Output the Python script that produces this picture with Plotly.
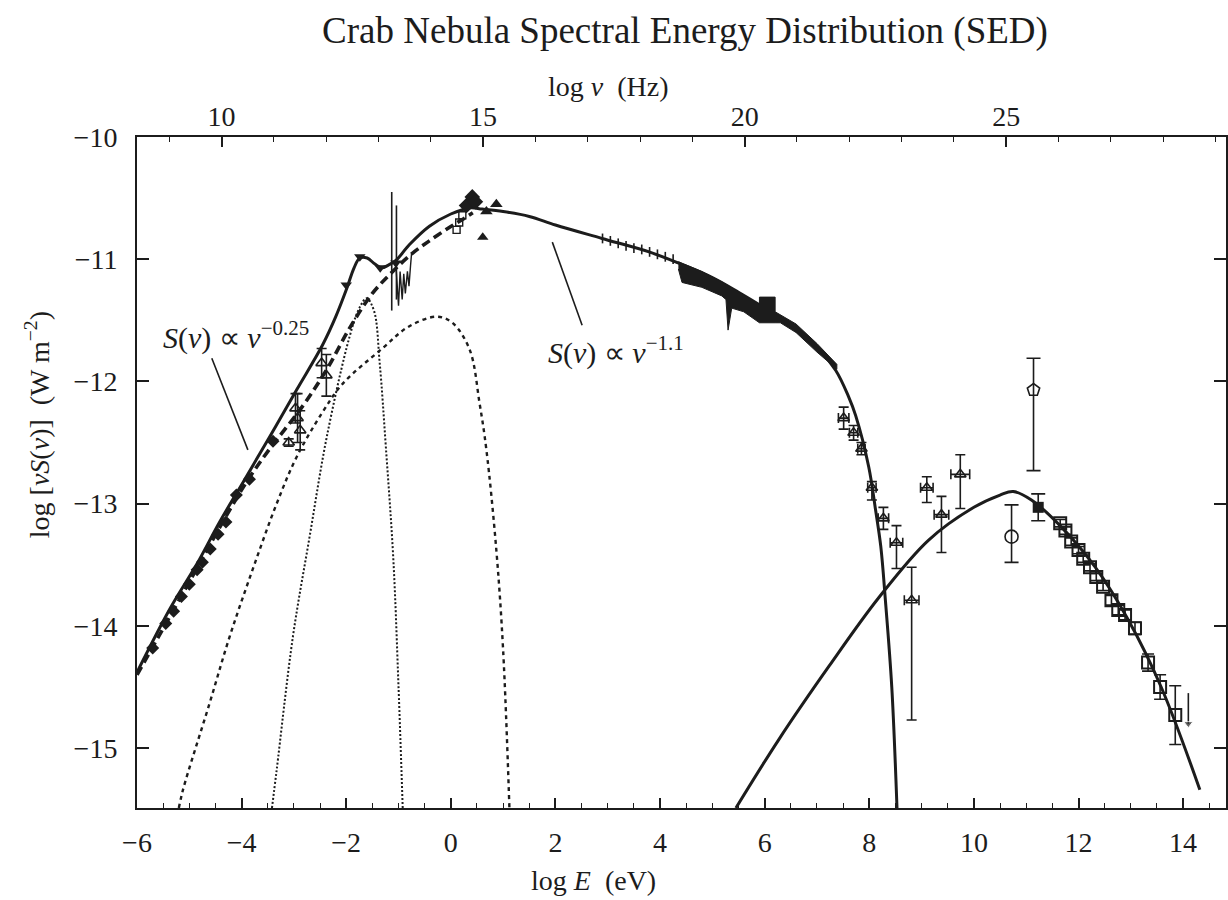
import plotly.graph_objects as go

# ---------------- data (log E [eV], log[nu S(nu)] [W m^-2]) ----------------
# synchrotron model (solid)
sync_x = [-6.0, -5.37, -4.85, -4.42, -3.98, -3.46, -2.95, -2.45, -2.2, -1.99, -1.85, -1.74, -1.6,
          -1.45, -1.32, -1.2, -1.05, -0.79, -0.41, 0.0, 0.36, 0.6, 1.0, 1.5, 2.0, 2.89, 3.79, 4.4,
          5.0, 5.5, 6.0, 6.5, 7.0, 7.36, 7.6, 7.74, 7.99, 8.12, 8.22, 8.31, 8.43, 8.53]
sync_y = [-14.38, -13.86, -13.49, -13.15, -12.83, -12.45, -12.07, -11.70, -11.47, -11.24, -11.07,
          -10.99, -10.99, -11.04, -11.07, -11.05, -11.01, -10.88, -10.73, -10.63, -10.58, -10.59,
          -10.61, -10.65, -10.72, -10.83, -10.94, -11.04, -11.15, -11.27, -11.40, -11.55, -11.72,
          -11.91, -12.12, -12.28, -12.70, -13.05, -13.35, -13.80, -14.50, -15.49]
# thick dashed model
dash_x = [-6.0, -5.0, -4.2, -3.84, -3.46, -2.83, -2.37, -1.93, -1.5, -1.11, -0.73, -0.41, -0.03, 0.2, 0.42]
dash_y = [-14.40, -13.64, -13.03, -12.78, -12.55, -12.20, -11.90, -11.56, -11.28, -11.10, -10.95,
          -10.85, -10.74, -10.68, -10.62]
# broad dashed component
broad_x = [-5.2, -5.12, -4.61, -4.23, -3.79, -3.33, -2.95, -2.45, -2.07, -1.31, -0.8, -0.27, 0.03,
           0.36, 0.55, 0.68, 0.87, 1.0, 1.12]
broad_y = [-15.49, -15.34, -14.63, -14.09, -13.54, -13.0, -12.62, -12.25, -12.02, -11.73, -11.55,
           -11.47, -11.52, -11.74, -12.18, -12.56, -13.38, -14.2, -15.49]
# narrow dotted component
narrow_x = [-3.42, -3.33, -3.02, -2.70, -2.37, -1.94, -1.75, -1.61, -1.47, -1.36, -1.24, -1.1,
            -1.0, -0.92]
narrow_y = [-15.49, -15.18, -14.09, -13.27, -12.45, -11.64, -11.40, -11.32, -11.42, -11.85,
            -12.55, -13.45, -14.5, -15.49]
# inverse-Compton model
ic_x = [5.45, 6.27, 7.23, 8.18, 9.13, 10.0, 10.5, 10.75, 11.1, 11.67, 12.32, 12.95, 13.58, 14.32]
ic_y = [-15.49, -14.93, -14.33, -13.77, -13.30, -13.03, -12.93, -12.90, -12.97, -13.19,
        -13.52, -13.95, -14.50, -15.34]

# radio / IR data (filled diamonds)
radio_x = [-5.7, -5.45, -5.3, -5.15, -5.0, -4.85, -4.75, -4.6, -4.45, -4.3, -4.1, -3.85, -3.4]
radio_y = [-14.18, -13.98, -13.88, -13.76, -13.66, -13.54, -13.48, -13.37, -13.25, -13.15, -12.93,
           -12.80, -12.49]
# IR triangles with error bars
irt_x = [-3.1, -2.97, -2.93, -2.88, -2.47, -2.38]
irt_y = [-12.50, -12.22, -12.30, -12.40, -11.85, -11.95]
irt_err = [0.03, 0.12, 0.20, 0.16, 0.12, 0.17]
# near-IR down triangles
nir_x = [-2.0, -1.74, -1.35, -1.05]
nir_y = [-11.21, -10.98, -11.07, -11.03]
# optical filled diamonds
opt_x = [0.30, 0.41, 0.47]
opt_y = [-10.56, -10.49, -10.53]
# optical open squares
opq_x = [0.11, 0.16, 0.22]
opq_y = [-10.76, -10.70, -10.64]
# UV triangles
uv_x = [0.68, 0.87]
uv_y = [-10.61, -10.55]
uvf_x = [0.61]
uvf_y = [-10.82]
# mid-IR spectra spikes
spike_x = [-1.13, -1.13, None, -1.04, -1.04]
spike_y = [-10.45, -11.42, None, -10.56, -11.33]
jag_x = [-1.05, -1.0, -0.97, -0.93, -0.9, -0.87, -0.83, -0.8, -0.77, -0.75]
jag_y = [-11.05, -11.38, -11.10, -11.33, -11.12, -11.28, -11.10, -11.22, -11.05, -10.95]
# X-ray points with small error bars
xr_x = [2.9, 3.05, 3.2, 3.35, 3.5, 3.65, 3.8, 3.95, 4.1, 4.25]
xr_y = [-10.83, -10.85, -10.87, -10.89, -10.91, -10.92, -10.94, -10.96, -10.98, -11.0]
# dense X-ray measurement band
band_x = [4.35, 4.8, 5.2, 5.6, 5.9, 5.9, 6.2, 6.2, 6.6, 7.0, 7.38, 7.38, 7.0, 6.6, 6.3, 6.2,
          5.9, 5.6, 5.37, 5.3, 5.26, 5.18, 4.8, 4.42, 4.35]
band_y = [-11.02, -11.10, -11.19, -11.29, -11.37, -11.31, -11.31, -11.43, -11.53, -11.69, -11.86,
          -11.90, -11.76, -11.60, -11.52, -11.52, -11.52, -11.43, -11.40, -11.58, -11.33, -11.30,
          -11.23, -11.19, -11.08]
# hard X-ray / soft gamma triangles
hx_x = [7.51, 7.70, 7.85, 8.05, 8.27, 8.52, 8.81, 9.10, 9.38, 9.74]
hx_y = [-12.30, -12.42, -12.55, -12.87, -13.12, -13.32, -13.79, -12.87, -13.09, -12.76]
hx_eplus = [0.09, 0.06, 0.05, 0.05, 0.09, 0.14, 0.27, 0.09, 0.15, 0.16]
hx_eminus = [0.09, 0.06, 0.05, 0.10, 0.09, 0.21, 0.98, 0.12, 0.31, 0.28]
hx_ex = [0.10, 0.08, 0.07, 0.08, 0.10, 0.12, 0.14, 0.12, 0.14, 0.18]
# gamma-ray circle / pentagon / filled square
circ_x = [10.72]
circ_y = [-13.27]
circ_ep = [0.26]
circ_em = [0.21]
pent_x = [11.14]
pent_y = [-12.07]
pent_ep = [0.26]
pent_em = [0.66]
fsq_x = [11.23]
fsq_y = [-13.03]
fsq_e = [0.11]
# TeV open squares
tev_x = [11.65, 11.75, 11.86, 12.0, 12.09, 12.22, 12.34, 12.47, 12.63, 12.76, 12.89, 13.08, 13.33,
         13.56, 13.85]
tev_y = [-13.16, -13.22, -13.31, -13.38, -13.45, -13.52, -13.60, -13.68, -13.79, -13.87, -13.91,
         -14.02, -14.30, -14.50, -14.73]
tev_e = [0.03, 0.03, 0.03, 0.03, 0.03, 0.03, 0.03, 0.03, 0.04, 0.04, 0.04, 0.05, 0.07, 0.10, 0.24]
# upper limit arrow
ul_x = [14.1, 14.1]
ul_y = [-14.55, -14.80]
# annotation leader lines
lead1_x = [-4.57, -3.88]
lead1_y = [-11.81, -12.56]
lead2_x = [1.94, 2.51]
lead2_y = [-10.86, -11.54]

top_ticks = [10, 15, 20, 25]
LOG_H = 14.383  # log nu = log E + 14.383

INK = "#1c1c1c"
FONT = "Liberation Serif"
X_RANGE = [-6.0, 14.82]
Y_RANGE = [-15.49, -10.0]

fig = go.Figure()


def add_line(x, y, width, dash="solid", shape="spline"):
    fig.add_trace(go.Scatter(x=x, y=y, mode="lines", line=dict(color=INK, width=width, dash=dash,
                                                                 shape=shape),
                             hoverinfo="skip", showlegend=False))


add_line(broad_x, broad_y, 2.4, "4px,4px")
add_line(narrow_x, narrow_y, 2.0, "2px,2px")
add_line(dash_x, dash_y, 3.6, "9px,5px")
add_line(sync_x, sync_y, 3.0)
add_line(ic_x, ic_y, 3.0)
add_line(spike_x, spike_y, 1.6, shape="linear")
add_line(jag_x, jag_y, 1.4, shape="linear")
add_line(lead1_x, lead1_y, 1.6, shape="linear")
add_line(lead2_x, lead2_y, 1.6, shape="linear")

fig.add_trace(go.Scatter(x=band_x, y=band_y, mode="lines", fill="toself", fillcolor=INK,
                         line=dict(color=INK, width=1), hoverinfo="skip", showlegend=False))

eb = dict(type="data", color=INK, thickness=1.6, width=5)

fig.add_trace(go.Scatter(x=radio_x, y=radio_y, mode="markers",
                         marker=dict(symbol="diamond", size=10, color=INK), showlegend=False))
fig.add_trace(go.Scatter(x=irt_x, y=irt_y, mode="markers",
                         marker=dict(symbol="triangle-up-open", size=10, color=INK, line=dict(width=1.6)),
                         error_y=dict(eb, array=irt_err), showlegend=False))
fig.add_trace(go.Scatter(x=nir_x, y=nir_y, mode="markers",
                         marker=dict(symbol="triangle-down", size=10, color=INK), showlegend=False))
fig.add_trace(go.Scatter(x=opt_x, y=opt_y, mode="markers",
                         marker=dict(symbol="diamond", size=12, color=INK), showlegend=False))
fig.add_trace(go.Scatter(x=opq_x, y=opq_y, mode="markers",
                         marker=dict(symbol="square-open", size=7, color=INK, line=dict(width=1.4)),
                         showlegend=False))
fig.add_trace(go.Scatter(x=uv_x, y=uv_y, mode="markers",
                         marker=dict(symbol="triangle-up", size=11, color=INK), showlegend=False))
fig.add_trace(go.Scatter(x=uvf_x, y=uvf_y, mode="markers",
                         marker=dict(symbol="triangle-up", size=10, color=INK), showlegend=False))
fig.add_trace(go.Scatter(x=xr_x, y=xr_y, mode="markers",
                         marker=dict(symbol="line-ns", size=7, color=INK, line=dict(width=1.6, color=INK)),
                         showlegend=False))
fig.add_trace(go.Scatter(x=hx_x, y=hx_y, mode="markers",
                         marker=dict(symbol="triangle-up-open", size=10, color=INK, line=dict(width=1.6)),
                         error_y=dict(eb, array=hx_eplus, arrayminus=hx_eminus),
                         error_x=dict(eb, array=hx_ex), showlegend=False))
fig.add_trace(go.Scatter(x=circ_x, y=circ_y, mode="markers",
                         marker=dict(symbol="circle-open", size=13, color=INK, line=dict(width=1.6)),
                         error_y=dict(eb, array=circ_ep, arrayminus=circ_em, width=7), showlegend=False))
fig.add_trace(go.Scatter(x=pent_x, y=pent_y, mode="markers",
                         marker=dict(symbol="pentagon-open", size=13, color=INK, line=dict(width=1.6)),
                         error_y=dict(eb, array=pent_ep, arrayminus=pent_em, width=7), showlegend=False))
fig.add_trace(go.Scatter(x=fsq_x, y=fsq_y, mode="markers",
                         marker=dict(symbol="square", size=11, color=INK),
                         error_y=dict(eb, array=fsq_e, width=7), showlegend=False))
fig.add_trace(go.Scatter(x=tev_x, y=tev_y, mode="markers",
                         marker=dict(symbol="square-open", size=12, color=INK, line=dict(width=2)),
                         error_y=dict(eb, array=tev_e, width=6), showlegend=False))
fig.add_trace(go.Scatter(x=ul_x, y=ul_y, mode="lines+markers",
                         line=dict(color=INK, width=1.6),
                         marker=dict(symbol="triangle-down", size=[0, 8], color=INK), showlegend=False))

# invisible trace to carry the top (log nu) axis
fig.add_trace(go.Scatter(x=top_ticks, y=[Y_RANGE[1]] * len(top_ticks), xaxis="x2", mode="markers",
                         marker=dict(opacity=0), hoverinfo="skip", showlegend=False))

tickfont = dict(family=FONT, size=28, color=INK)
fig.update_layout(
    width=1228, height=900, autosize=False,
    margin=dict(l=137, r=0, t=137, b=92),
    paper_bgcolor="white", plot_bgcolor="white",
    font=dict(family=FONT, color=INK),
    title=dict(text="Crab Nebula Spectral Energy Distribution (SED)", font=dict(family=FONT, size=37, color=INK),
               xref="container", yref="container", x=685 / 1228, xanchor="center",
               y=1 - 30 / 900, yanchor="middle"),
    xaxis=dict(range=X_RANGE, showgrid=False, zeroline=False, showline=True, linecolor=INK, linewidth=2,
               mirror=True, ticks="inside", ticklen=10, tickwidth=1.6, tickcolor=INK, dtick=2, tick0=0,
               minor=dict(dtick=0.5, tick0=0, ticks="inside", ticklen=5, tickwidth=1.4, tickcolor=INK),
               tickfont=tickfont, ticklabelstandoff=8),
    xaxis2=dict(range=[X_RANGE[0] + LOG_H, X_RANGE[1] + LOG_H], overlaying="x", side="top",
                showgrid=False, zeroline=False, showline=False, ticks="inside", ticklen=10, tickwidth=1.6,
                tickcolor=INK, tickvals=top_ticks,
                minor=dict(dtick=1, tick0=0, ticks="inside", ticklen=5, tickwidth=1.4, tickcolor=INK),
                tickfont=tickfont, ticklabelstandoff=4),
    yaxis=dict(range=Y_RANGE, showgrid=False, zeroline=False, showline=True, linecolor=INK, linewidth=2,
               mirror="ticks", ticks="inside", ticklen=12, tickwidth=1.6, tickcolor=INK, dtick=1, tick0=-10,
               tickfont=tickfont, ticklabelstandoff=12),
    showlegend=False,
)

ann_font = dict(family=FONT, size=28, color=INK)
fig.add_annotation(text="log <i>ν</i>\u00a0 (Hz)", xref="paper", yref="paper", x=(609 - 137) / 1091,
                   y=(808 - 86) / 671, showarrow=False, font=ann_font, xanchor="center", yanchor="middle")
fig.add_annotation(text="log <i>E</i>\u00a0 (eV)", xref="paper", yref="paper", x=(594 - 137) / 1091,
                   y=(808 - 880) / 671, showarrow=False, font=ann_font, xanchor="center", yanchor="middle")
fig.add_annotation(text="log [<i>νS</i>(<i>ν</i>)]\u00a0 (W m<sup>−2</sup>)", xref="paper", yref="paper",
                   x=(37 - 137) / 1091, y=(808 - 425) / 671, textangle=-90, showarrow=False, font=ann_font,
                   xanchor="center", yanchor="middle")
fig.add_annotation(text="<i>S</i>(<i>ν</i>) ∝ <i>ν</i><sup>−0.25</sup>", xref="paper", yref="paper",
                   x=(236 - 137) / 1091, y=(808 - 335) / 671, showarrow=False,
                   font=dict(family=FONT, size=30, color=INK), xanchor="center", yanchor="middle")
fig.add_annotation(text="<i>S</i>(<i>ν</i>) ∝ <i>ν</i><sup>−1.1</sup>", xref="paper", yref="paper",
                   x=(617 - 137) / 1091, y=(808 - 350) / 671, showarrow=False,
                   font=dict(family=FONT, size=30, color=INK), xanchor="center", yanchor="middle")

fig.write_html("out.html")
